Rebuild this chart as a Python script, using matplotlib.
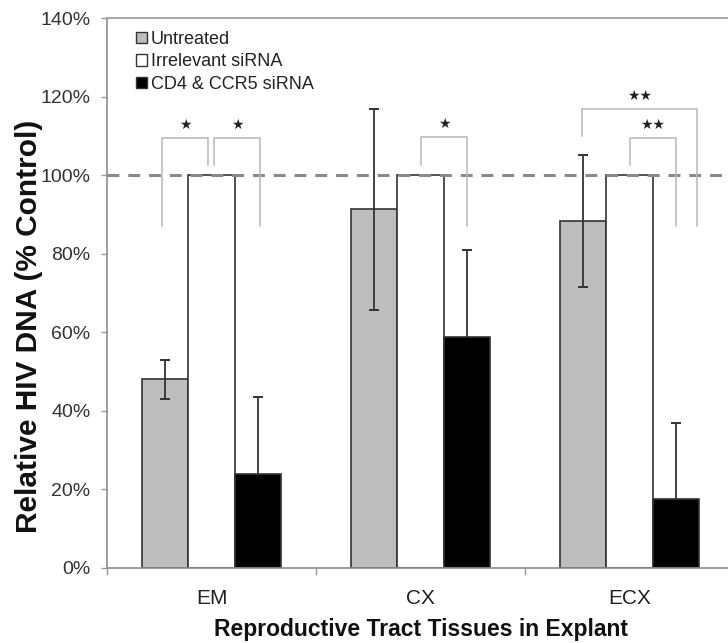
import matplotlib
matplotlib.use("Agg")
import matplotlib.pyplot as plt
from matplotlib.patches import Patch
from matplotlib.ticker import FuncFormatter, FixedLocator
import numpy as np

plt.rcParams['font.family'] = ['Liberation Sans', 'DejaVu Sans']

# Data (% of control)
tissues = ["EM", "CX", "ECX"]
series_names = ["Untreated", "Irrelevant siRNA", "CD4 & CCR5 siRNA"]
untreated = [48.0, 91.3, 88.3]
untreated_err = [5.0, 25.6, 16.8]
irrelevant = [100.0, 100.0, 100.0]
cd4_ccr5 = [23.8, 58.7, 17.4]
cd4_ccr5_err = [19.6, 22.2, 19.4]

# Significance brackets: (tissue index, left offset, right offset, top,
#                         left leg end, right leg end, label)
brackets = [
    (0, -0.236, -0.015, 109.5, 87.0, 102.7, "★"),
    (0, 0.011, 0.233, 109.5, 102.7, 87.0, "★"),
    (1, 0.0, 0.224, 109.7, 102.7, 87.0, "★"),
    (2, -0.227, 0.322, 116.8, 110.0, 87.0, "★★"),
    (2, 0.0, 0.223, 109.5, 102.7, 87.0, "★★"),
]

fig = plt.figure(figsize=(7.28, 6.43), dpi=100)
ax = fig.add_axes([107 / 728, 75.3 / 643, 627 / 728, 549.4 / 643])

x = np.arange(len(tissues))
w = 0.222
edge = "#333333"
ax.bar(x - w, untreated, w, color="#bdbdbd", edgecolor=edge, linewidth=1.2, zorder=2)
ax.bar(x, irrelevant, w, color="white", edgecolor=edge, linewidth=1.2, zorder=2)
ax.bar(x + w, cd4_ccr5, w, color="black", edgecolor=edge, linewidth=1.2, zorder=2)

ax.errorbar(x - w, untreated, yerr=untreated_err, fmt="none", ecolor="#333333",
            elinewidth=1.3, capsize=3.5, capthick=1.4, zorder=4)
ax.errorbar(x + w, cd4_ccr5, yerr=cd4_ccr5_err, fmt="none", ecolor="#333333",
            elinewidth=1.3, capsize=3.5, capthick=1.4, zorder=1)

# 100% control reference
ax.axhline(100, color="#8a8a8a", lw=2.2, dashes=(3.9, 2.9), zorder=3)

# Significance brackets
for ti, xl, xr, top, yl, yr, lab in brackets:
    ax.plot([ti + xl, ti + xl, ti + xr, ti + xr], [yl, top, top, yr],
            color="#b8b8b8", lw=1.1, zorder=3, solid_joinstyle="miter")
    ax.text(ti + (xl + xr) / 2, top + 3.4, lab, ha="center", va="center",
            fontsize=10, family="DejaVu Sans", color="#222222")

ax.set_xlim(-0.5, 2.5)
ax.set_ylim(0, 140)
ax.set_yticks(np.arange(0, 141, 20))
ax.yaxis.set_major_formatter(FuncFormatter(lambda v, p: f"{v:.0f}%"))
ax.set_xticks(x)
ax.set_xticklabels(tissues)
ax.xaxis.set_minor_locator(FixedLocator([-0.5, 0.5, 1.5]))
ax.tick_params(axis="x", which="major", length=0, pad=15, labelsize=15, labelcolor="#222222")
ax.tick_params(axis="x", which="minor", length=5, width=1, color="#999999", direction="out")
ax.tick_params(axis="y", length=4, width=1, color="#999999", pad=8, labelsize=14,
               labelcolor="#333333")

for side in ["left", "bottom"]:
    ax.spines[side].set_color("#8c8c8c")
    ax.spines[side].set_linewidth(1.2)
ax.spines["top"].set_color("#a8a8a8")
ax.spines["top"].set_linewidth(1.4)
ax.spines["right"].set_color("#a8a8a8")

ax.set_xlabel("Reproductive Tract Tissues in Explant", fontsize=16.5, fontweight="bold",
              color="#111111")
ax.xaxis.set_label_coords(0.5, -0.091)
ax.set_ylabel("Relative HIV DNA (% Control)", fontsize=21.5, fontweight="bold",
              color="#111111")
ax.yaxis.set_label_coords(-0.102, 0.44)

handles = [Patch(facecolor="#bdbdbd", edgecolor=edge, linewidth=1.0),
           Patch(facecolor="white", edgecolor=edge, linewidth=1.0),
           Patch(facecolor="black", edgecolor=edge, linewidth=1.0)]
leg = ax.legend(handles, series_names, loc="upper left", bbox_to_anchor=(0.047, 0.977),
                frameon=False, fontsize=13, handlelength=0.6, handleheight=0.6,
                handletextpad=0.2, labelspacing=0.3, borderpad=0, borderaxespad=0)
for t in leg.get_texts():
    t.set_color("#222222")

fig.savefig("out.png", dpi=100)
